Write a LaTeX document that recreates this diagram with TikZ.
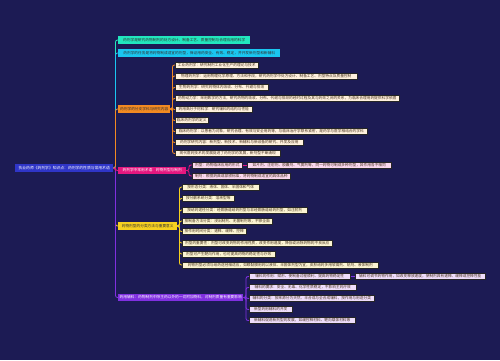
\documentclass[tikz,border=0pt]{standalone}
\usepackage{fontspec}
\newfontfamily\cjk{Noto Sans CJK SC}
\definecolor{bg}{HTML}{1C1B54}
\definecolor{croot}{HTML}{2F35C8}
\definecolor{cteal}{HTML}{22E6BE}
\definecolor{ccyan}{HTML}{1AC6F0}
\definecolor{corange}{HTML}{F28A22}
\definecolor{cpink}{HTML}{E4177F}
\definecolor{cyellow}{HTML}{F6D020}
\definecolor{cpurple}{HTML}{8030E0}
\definecolor{forange}{HTML}{FFF1DE}
\definecolor{fpink}{HTML}{FAD8EE}
\definecolor{fyellow}{HTML}{FBF4D2}
\definecolor{fpurple}{HTML}{EEDDFB}
\definecolor{txt}{HTML}{4A3522}
\begin{document}
\begin{tikzpicture}[x=1pt,y=-1pt,
  box/.style={anchor=west, inner xsep=1.5pt, inner ysep=0pt, font=\cjk\fontsize{3.7}{4}\selectfont},
  rootbox/.style={box, fill=croot, text=white, minimum height=8pt, font=\cjk\fontsize{3.8}{4}\selectfont},
  lone/.style={box, minimum height=7.5pt},
  ltwo/.style={box, minimum height=6pt, draw=black!85, line width=0.5pt, text=txt},
  oc/.style={ltwo, fill=forange},
  pc/.style={ltwo, fill=fpink},
  yc/.style={ltwo, fill=fyellow},
  uc/.style={ltwo, fill=fpurple},
  link/.style={line width=0.8pt, rounded corners=2pt}]
\fill[bg] (0,0) rectangle (500,360);
\useasboundingbox (0,0) rectangle (500,360);

% root
\node[rootbox, minimum width=98] (root) at (15,168) {执业药师《药剂学》知识点：药剂学的性质与常用术语};

% level 1
\node[lone, fill=cteal, text=black!80, minimum width=132] (b1) at (118,40) {药剂学是研究药物制剂的处方设计、制备工艺、质量控制与合理应用的科学};
\node[lone, fill=ccyan, text=black!80, minimum width=162] (b2) at (118,53) {药剂学的任务是将药物制成适宜的剂型，保证用药安全、有效、稳定，并开发新剂型和新辅料};
\node[lone, fill=corange, text=black!80, minimum width=52] (b3) at (118,109) {药剂学的分支学科与研究内容};
\node[lone, fill=cpink, text=white, minimum width=68] (b4) at (118,170.5) {药剂学中常用术语：药物剂型与制剂};
\node[lone, fill=cyellow, text=black!80, minimum width=59] (b5) at (118,226) {药物剂型的分类方法与重要意义};
\node[lone, fill=cpurple, text=white, minimum width=125] (b6) at (118,297.5) {药用辅料：药物制剂中除主药以外的一切附加物料，对制剂质量有重要影响};

\draw[link, cteal] (root.east) -- (115.5,168) |- (b1.west);
\draw[link, ccyan] (root.east) -- (115.5,168) |- (b2.west);
\draw[link, corange] (root.east) -- (115.5,168) |- (b3.west);
\draw[link, cyellow] (root.east) -- (115.5,168) |- (b5.west);
\draw[link, cpurple] (root.east) -- (115.5,168) |- (b6.west);
\draw[link, cpink] (root.east) -- (115.5,168) |- (b4.west);

% orange children
\node[oc, minimum width=83] (o1) at (175,65) {工业药剂学：研究制剂工业化生产的理论与技术};
\node[oc, minimum width=182] (o2) at (175,76) {物理药剂学：运用物理化学原理、方法和手段，研究药剂学中处方设计、制备工艺、剂型特点及质量控制};
\node[oc, minimum width=93] (o3) at (175,87.5) {生物药剂学：研究药物体内吸收、分布、代谢与排泄};
\node[oc, minimum width=224] (o4) at (175,98.5) {药物动力学：采用数学的方法，研究药物的吸收、分布、代谢与排泄的经时过程及其与药效之间的关系，为临床合理用药提供科学依据};
\node[oc, minimum width=77] (o5) at (175,109.5) {药用高分子材料学：研究辅料的结构与性能};
\node[oc, minimum width=33] (o6) at (175,120.5) {临床药剂学的定义};
\node[oc, minimum width=192] (o7) at (175,131.5) {临床药剂学：以患者为对象，研究合理、有效与安全用药等，与临床治疗学联系紧密，是药学与医学相结合的学科};
\node[oc, minimum width=128] (o8) at (175,142.5) {药剂学研究内容：新剂型、新技术、新辅料与新设备的研究、开发及应用};
\node[oc, minimum width=105] (o9) at (175,153.5) {现代医药技术的发展促进了药剂学的发展，新剂型不断涌现};
\foreach \c in {o1,o2,o3,o4,o5,o6,o7,o8,o9}
  \draw[link, corange] (b3.east) -- (172.5,109) |- (\c.west);

% pink children
\node[pc, minimum width=50] (p1) at (192,165) {剂型：药物临床应用的形式};
\node[pc, minimum width=144] (p1a) at (247,165) {如片剂、注射剂、胶囊剂、气雾剂等，同一药物可制成多种剂型，其作用各不相同};
\node[pc, minimum width=98] (p2) at (192,176) {制剂：根据药典或部颁标准，将药物制成适宜的具体品种};
\foreach \c in {p1,p2}
  \draw[link, cpink] (b4.east) -- (189,170.5) |- (\c.west);
\draw[link, cpink] (p1.east) -- (p1a.west);

% yellow children
\node[yc, minimum width=77] (y1) at (182,187) {按形态分类：液体、固体、半固体和气体};
\node[yc, minimum width=52] (y2) at (182,198.5) {按分散系统分类：溶液型等};
\node[yc, minimum width=125] (y3) at (182,210) {按给药途径分类：经胃肠道给药剂型与非经胃肠道给药剂型，如注射剂};
\node[yc, minimum width=90] (y4) at (182,221) {按制备方法分类：浸出制剂、无菌制剂等，不够全面};
\node[yc, minimum width=64] (y5) at (182,231.5) {按作用时间分类：速释、缓释、控释};
\node[yc, minimum width=150] (y6) at (182,243) {剂型的重要性：剂型可改变药物的作用性质，改变作用速度，降低或消除药物的不良反应};
\node[yc, minimum width=93] (y7) at (182,254) {剂型可产生靶向作用，也可提高药物的稳定性与疗效};
\node[yc, minimum width=196] (y8) at (182,265) {药物剂型必须与给药途径相适应，如眼黏膜用药以液体、半固体剂型为宜，皮肤给药多用软膏剂、贴剂、液体制剂};
\foreach \c in {y1,y2,y3,y4,y5,y6,y7,y8}
  \draw[link, cyellow] (b5.east) -- (179.5,226) |- (\c.west);

% purple children
\node[uc, minimum width=101] (u1) at (249,276.5) {辅料的作用：赋形、使制备过程顺利、提高药物稳定性};
\node[uc, minimum width=130] (u1a) at (355,276.5) {辅料可调节药物作用，如改变释放速度，使制剂具有速释、缓释或控释性能};
\node[uc, minimum width=107] (u2) at (249,287.5) {辅料的要求：安全、无毒、化学性质稳定，不影响主药疗效};
\node[uc, minimum width=125] (u3) at (249,298.5) {辅料的分类：按来源分为天然、半合成与全合成辅料，按作用与用途分类};
\node[uc, minimum width=43] (u4) at (249,309.5) {新型药用辅料的开发};
\node[uc, minimum width=106] (u5) at (249,320.5) {新辅料促进新剂型的发展，如缓控释材料、靶向载体材料等};
\foreach \c in {u1,u2,u3,u4,u5}
  \draw[link, cpurple] (b6.east) -- (246,297.5) |- (\c.west);
\draw[link, cpurple] (u1.east) -- (u1a.west);
\end{tikzpicture}
\end{document}
